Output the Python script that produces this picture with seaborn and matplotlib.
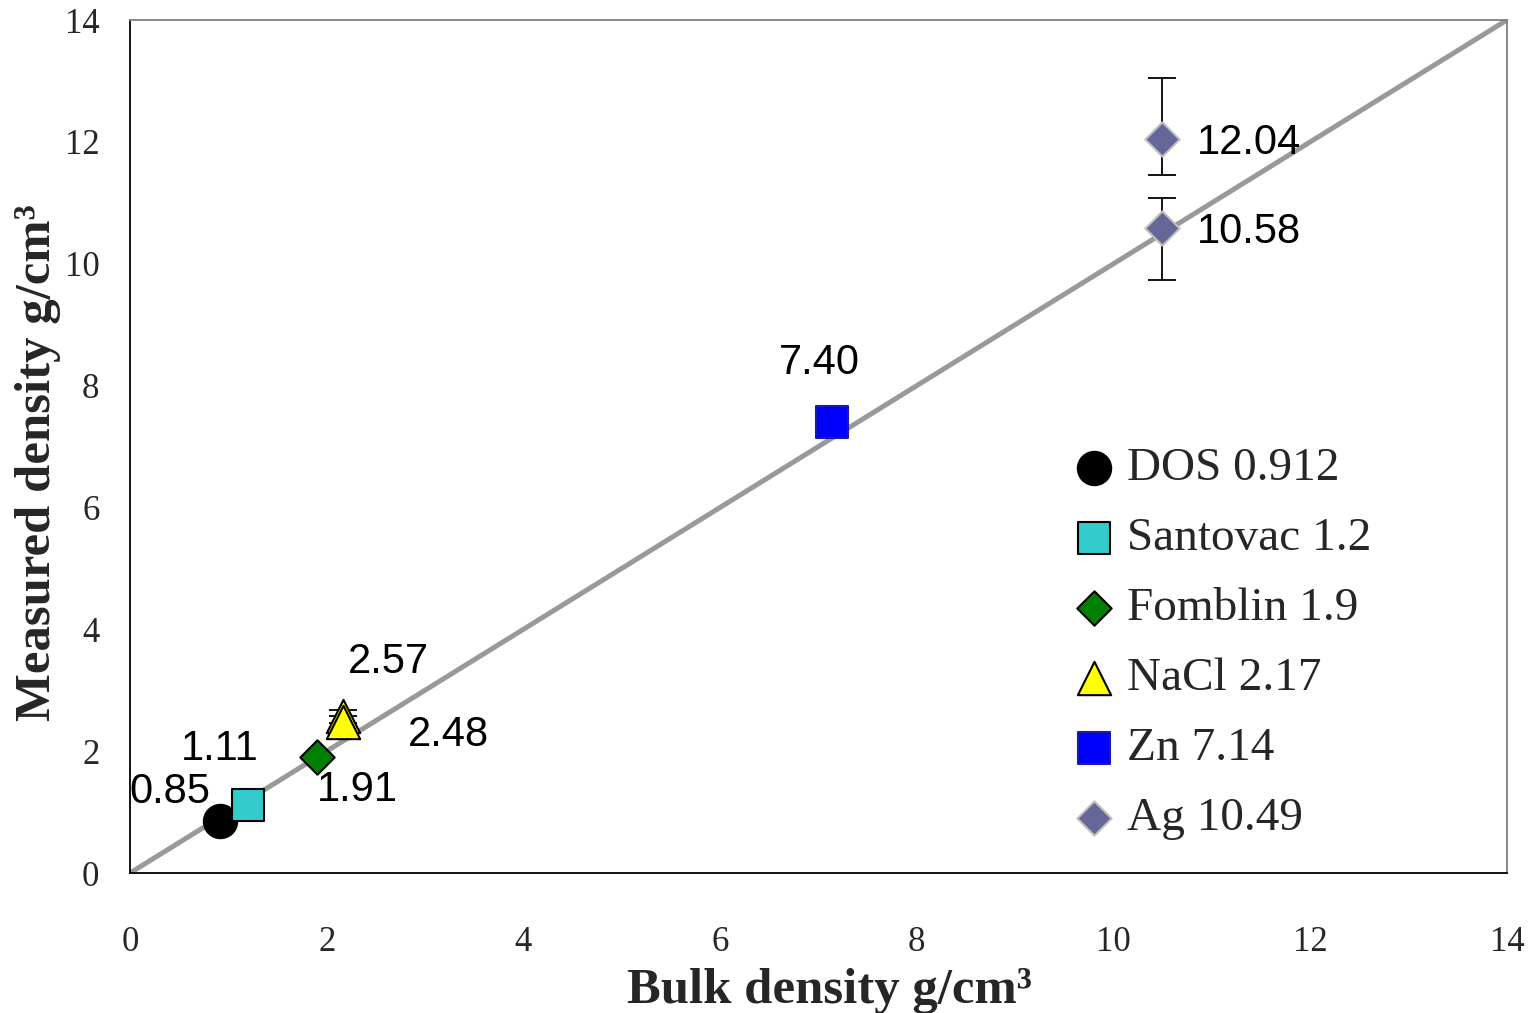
import numpy as np
import pandas as pd
import matplotlib
matplotlib.use("Agg")
import matplotlib.pyplot as plt
import seaborn as sns

# ---- data ----
names = ["DOS 0.912", "Santovac 1.2", "Fomblin 1.9", "NaCl 2.17", "Zn 7.14", "Ag 10.49"]
bulk = [0.912, 1.2, 1.9, 2.17, 7.14, 10.49]
measured = [[0.85], [1.11], [1.91], [2.57, 2.48], [7.40], [12.04, 10.58]]
err_low = [[0.0], [0.0], [0.0], [0.1, 0.1], [0.0], [0.58, 0.85]]
err_high = [[0.0], [0.0], [0.0], [0.1, 0.1], [0.0], [1.01, 0.50]]
labels = [["0.85"], ["1.11"], ["1.91"], ["2.57", "2.48"], ["7.40"], ["12.04", "10.58"]]
markers = ["o", "s", "D", "^", "s", "D"]
face = ["#000000", "#33CCCC", "#008000", "#FFFF00", "#0000FF", "#666699"]
edge = ["#000000", "#000000", "#000000", "#000000", "#1A1AA6", "#C0C0C0"]
msize = [24, 23, 17.5, 24, 23, 17.5]
# label offsets (pixels) and alignment
offsets = [[(-50, 29)], [(-28, 56)], [(40, -33)], [(45, 54), (105, -13)], [(-13, 59)], [(35, -4), (35, -4)]]
ha_list = [["center"], ["center"], ["center"], ["center", "center"], ["center"], ["left", "left"]]
diag = [0, 14]

sns.set_theme(style="white")
plt.rcParams["font.family"] = ["Liberation Serif", "DejaVu Serif"]

fig = plt.figure(figsize=(15.31, 10.13), dpi=100)
ax = fig.add_axes([130 / 1531, 1 - 873 / 1013, 1377 / 1531, 853 / 1013])

sns.lineplot(x=diag, y=diag, ax=ax, color="#999999", linewidth=3.6, zorder=1)

for i, nm in enumerate(names):
    ys = measured[i]
    xs = [bulk[i]] * len(ys)
    if max(err_high[i]) > 0:
        ax.errorbar(xs, ys, yerr=[err_low[i], err_high[i]], fmt="none", ecolor="black",
                    elinewidth=1.3, capsize=10, capthick=1.3, zorder=2)
    df = pd.DataFrame({"x": xs, "y": ys, "s": [nm] * len(ys)})
    sns.scatterplot(data=df, x="x", y="y", ax=ax, marker=markers[i], s=msize[i] ** 2,
                    color=face[i], edgecolor=edge[i], linewidth=1.5, label=nm, zorder=3)
    for j, y in enumerate(ys):
        ax.annotate(labels[i][j], (bulk[i], y), xytext=offsets[i][j], textcoords="offset pixels",
                    ha=ha_list[i][j], va="center", fontsize=30, family="Liberation Sans",
                    color="black", zorder=4)

ax.set_xlim(0, 14)
ax.set_ylim(0, 14)
ax.set_xticks(range(0, 15, 2))
ax.set_yticks(range(0, 15, 2))
ax.tick_params(axis="x", direction="in", length=9, width=1, color="black", pad=38, labelsize=25)
ax.tick_params(axis="y", direction="in", length=9, width=1, color="black", pad=22, labelsize=25)

for s in ["left", "bottom"]:
    ax.spines[s].set_color("black")
    ax.spines[s].set_linewidth(1.3)
for s in ["top", "right"]:
    ax.spines[s].set_color("#808080")
    ax.spines[s].set_linewidth(1.3)

ax.set_xlabel("Bulk density g/cm³", fontsize=36.5, fontweight="bold", va="baseline")
ax.set_ylabel("Measured density g/cm³", fontsize=36.5, fontweight="bold", va="baseline")
ax.xaxis.set_label_coords((829 - 130) / 1377, -(1003 - 873) / 853)
ax.yaxis.set_label_coords(-(130 - 50) / 1377, (873 - 463) / 853)

leg = ax.legend(loc="upper left", bbox_to_anchor=((1070 - 130) / 1377, (873 - 447) / 853),
                frameon=False, fontsize=34, labelspacing=0.57, handletextpad=0.2,
                handlelength=1.0, borderaxespad=0, borderpad=0)

fig.savefig("out.png", dpi=100)
